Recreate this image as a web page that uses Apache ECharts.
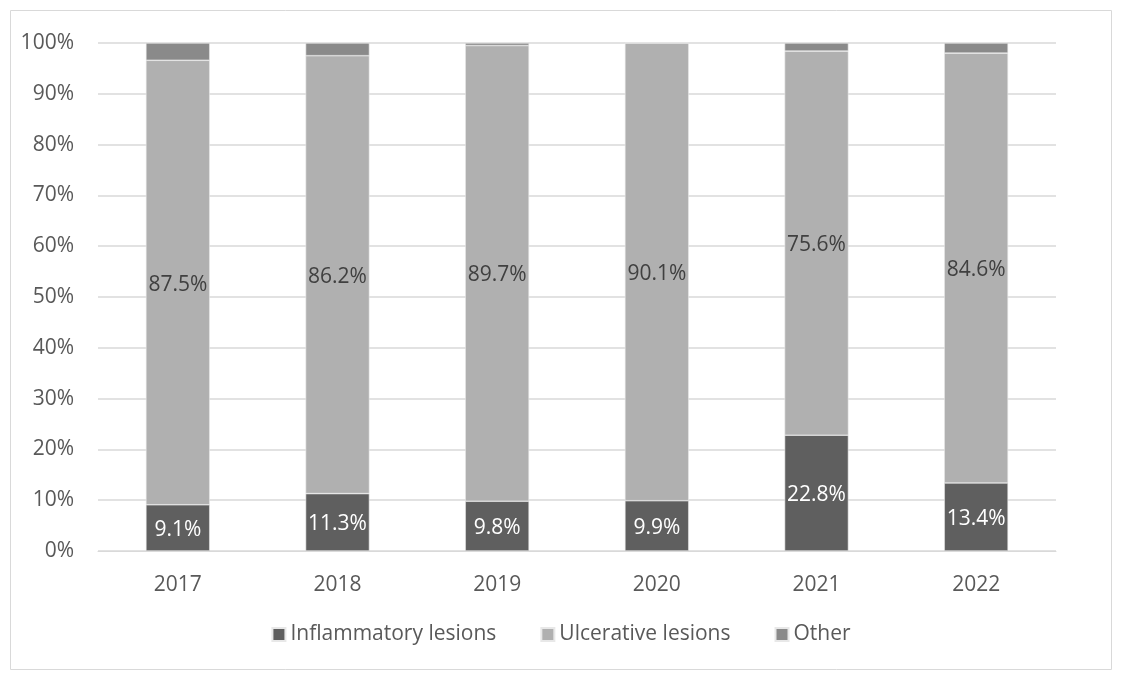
<!DOCTYPE html>
<html>
<head>
<meta charset="utf-8">
<script src="https://cdn.jsdelivr.net/npm/echarts@6/dist/echarts.min.js"></script>
<style>
  html, body { margin: 0; padding: 0; background: #fff; }
  #chart { width: 1122px; height: 682px; }
</style>
</head>
<body>
<div id="chart"></div>
<script>
var years = ['2017', '2018', '2019', '2020', '2021', '2022'];
var inflammatory = [9.1, 11.3, 9.8, 9.9, 22.8, 13.4];
var ulcerative = [87.5, 86.2, 89.7, 90.1, 75.6, 84.6];
var other = [3.4, 2.5, 0.5, 0.0, 1.6, 2.0];
var yTicks = [0, 10, 20, 30, 40, 50, 60, 70, 80, 90, 100];

var font = '"Open Sans", sans-serif';
var chart = echarts.init(document.getElementById('chart'));

function pct(p) { return p.value.toFixed(1) + '%'; }

chart.setOption({
    animation: false,
    textStyle: { fontFamily: font },
    graphic: [{
        type: 'rect',
        shape: { x: 10.5, y: 10.5, width: 1101, height: 659 },
        style: { fill: 'none', stroke: '#d9d9d9', lineWidth: 1 }
    }],
    grid: { left: 98, right: 66, top: 43, bottom: 131 },
    legend: {
        bottom: 32,
        itemWidth: 13, itemHeight: 13, itemGap: 44,
        icon: 'rect',
        textStyle: { fontSize: 21, color: '#595959', fontFamily: font }
    },
    xAxis: {
        type: 'category',
        data: years,
        axisLine: { lineStyle: { color: '#d9d9d9' } },
        axisTick: { show: false },
        axisLabel: { fontSize: 21, color: '#595959', margin: 24, fontFamily: font }
    },
    yAxis: {
        type: 'value',
        min: yTicks[0], max: yTicks[yTicks.length - 1], interval: 10,
        axisLine: { show: false },
        axisTick: { show: false },
        splitLine: { lineStyle: { color: '#d9d9d9', width: 1.5 } },
        axisLabel: { fontSize: 21, color: '#595959', margin: 24, formatter: '{value}%', fontFamily: font }
    },
    series: [{
        name: 'Inflammatory lesions',
        type: 'bar', stack: 'a', barWidth: '40%',
        data: inflammatory,
        itemStyle: { color: '#5f5f5f', borderColor: '#e8e8e8', borderWidth: 0.6 },
        label: { show: true, position: 'inside', color: '#fff', fontSize: 21, formatter: pct, fontFamily: font, offset: [0, 2] }
    }, {
        name: 'Ulcerative lesions',
        type: 'bar', stack: 'a',
        data: ulcerative,
        itemStyle: { color: '#b0b0b0', borderColor: '#e8e8e8', borderWidth: 0.6 },
        label: { show: true, position: 'inside', color: '#404040', fontSize: 21, formatter: pct, fontFamily: font, offset: [0, 2] }
    }, {
        name: 'Other',
        type: 'bar', stack: 'a',
        data: other,
        itemStyle: { color: '#8a8a8a', borderColor: '#e8e8e8', borderWidth: 0.6 }
    }]
});
</script>
</body>
</html>
